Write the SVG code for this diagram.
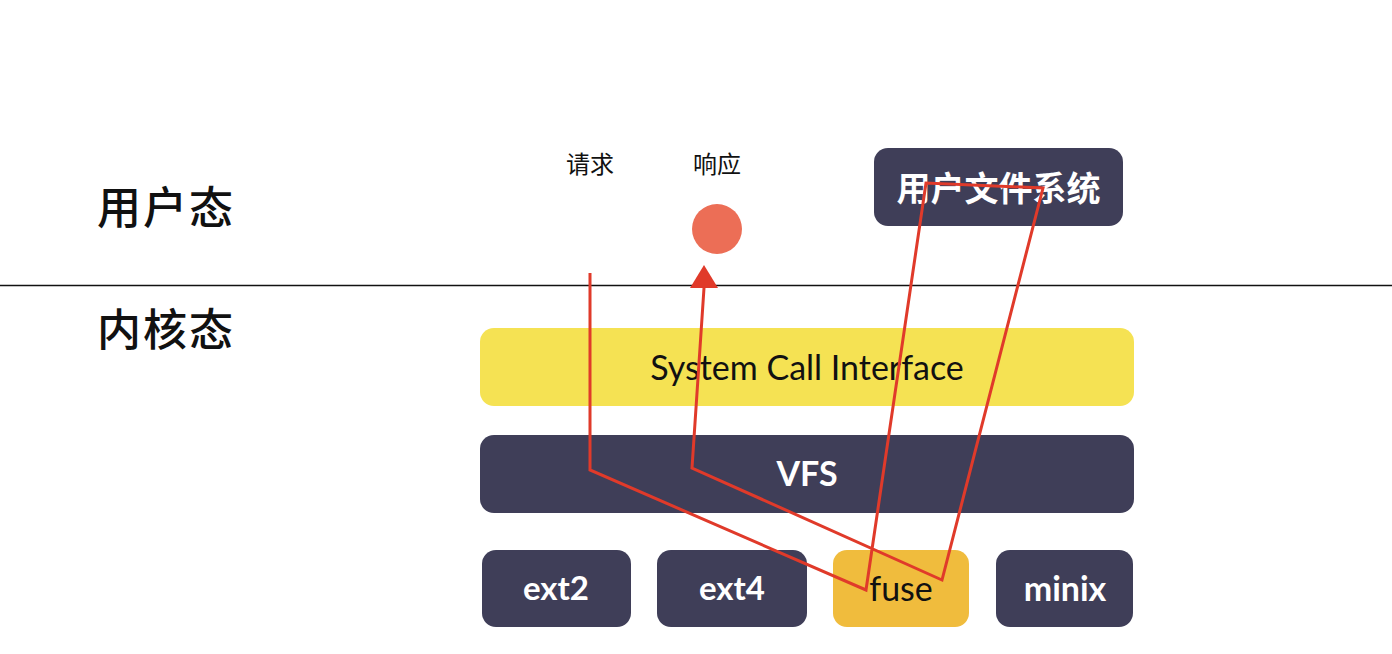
<svg xmlns="http://www.w3.org/2000/svg" width="1392" height="654" viewBox="0 0 1392 654">
<style>
.cn{font-family:"Noto Sans CJK SC","Noto Sans",sans-serif;fill:#111}
.lbl{font-family:Lato,"Noto Sans CJK SC",sans-serif;text-anchor:middle;dominant-baseline:central}
.dark{fill:#3F3E58}
.w{fill:#fff;font-weight:bold}
.path{fill:none;stroke:#E03A2A;stroke-width:3;stroke-linejoin:miter}
</style>
<rect width="1392" height="654" fill="#fff"/>
<g id="divider"><line x1="0" y1="285.5" x2="1392" y2="285.5" stroke="#111" stroke-width="1.5"/></g>
<g id="user-mode"><text class="cn" x="97" y="224" font-size="44" font-weight="500" letter-spacing="2">用户态</text></g>
<g id="kernel-mode"><text class="cn" x="97" y="346" font-size="44" font-weight="500" letter-spacing="2">内核态</text></g>
<g id="req-label"><text class="cn" x="590" y="173" font-size="24" text-anchor="middle">请求</text></g>
<g id="resp-label"><text class="cn" x="717" y="173" font-size="24" text-anchor="middle">响应</text></g>
<g id="resp-dot"><circle cx="717" cy="229" r="25" fill="#EC6E56"/></g>
<g id="userfs"><rect class="dark" x="874" y="148" width="249" height="78" rx="14"/><text class="lbl w" x="998.5" y="187" font-size="34" font-family="Noto Sans CJK SC,sans-serif">用户文件系统</text></g>
<g id="sci"><rect x="480" y="328" width="654" height="78" rx="14" fill="#F5E253"/><text class="lbl" x="807" y="366" font-size="34" fill="#111">System Call Interface</text></g>
<g id="vfs"><rect class="dark" x="480" y="435" width="654" height="78" rx="14"/><text class="lbl w" x="807" y="472" font-size="34" font-weight="normal">VFS</text></g>
<g id="ext2"><rect class="dark" x="482" y="550" width="149" height="77" rx="14"/><text class="lbl w" x="556" y="587" font-size="33">ext2</text></g>
<g id="ext4"><rect class="dark" x="657" y="550" width="150" height="77" rx="14"/><text class="lbl w" x="732" y="587" font-size="33">ext4</text></g>
<g id="fuse"><rect x="833" y="550" width="136" height="77" rx="14" fill="#F0BC3D"/><text class="lbl" x="901" y="587" font-size="34" fill="#111">fuse</text></g>
<g id="minix"><rect class="dark" x="996" y="550" width="137" height="77" rx="14"/><text class="lbl w" x="1065" y="587" font-size="34">minix</text></g>
<g id="connectors">
<polyline class="path" points="590,273 590,470 866,590 926,183 1043,188 942,580 692,468 704,288"/>
<polygon points="704,265 690,288 718,288" fill="#E03A2A"/>
</g>
</svg>
